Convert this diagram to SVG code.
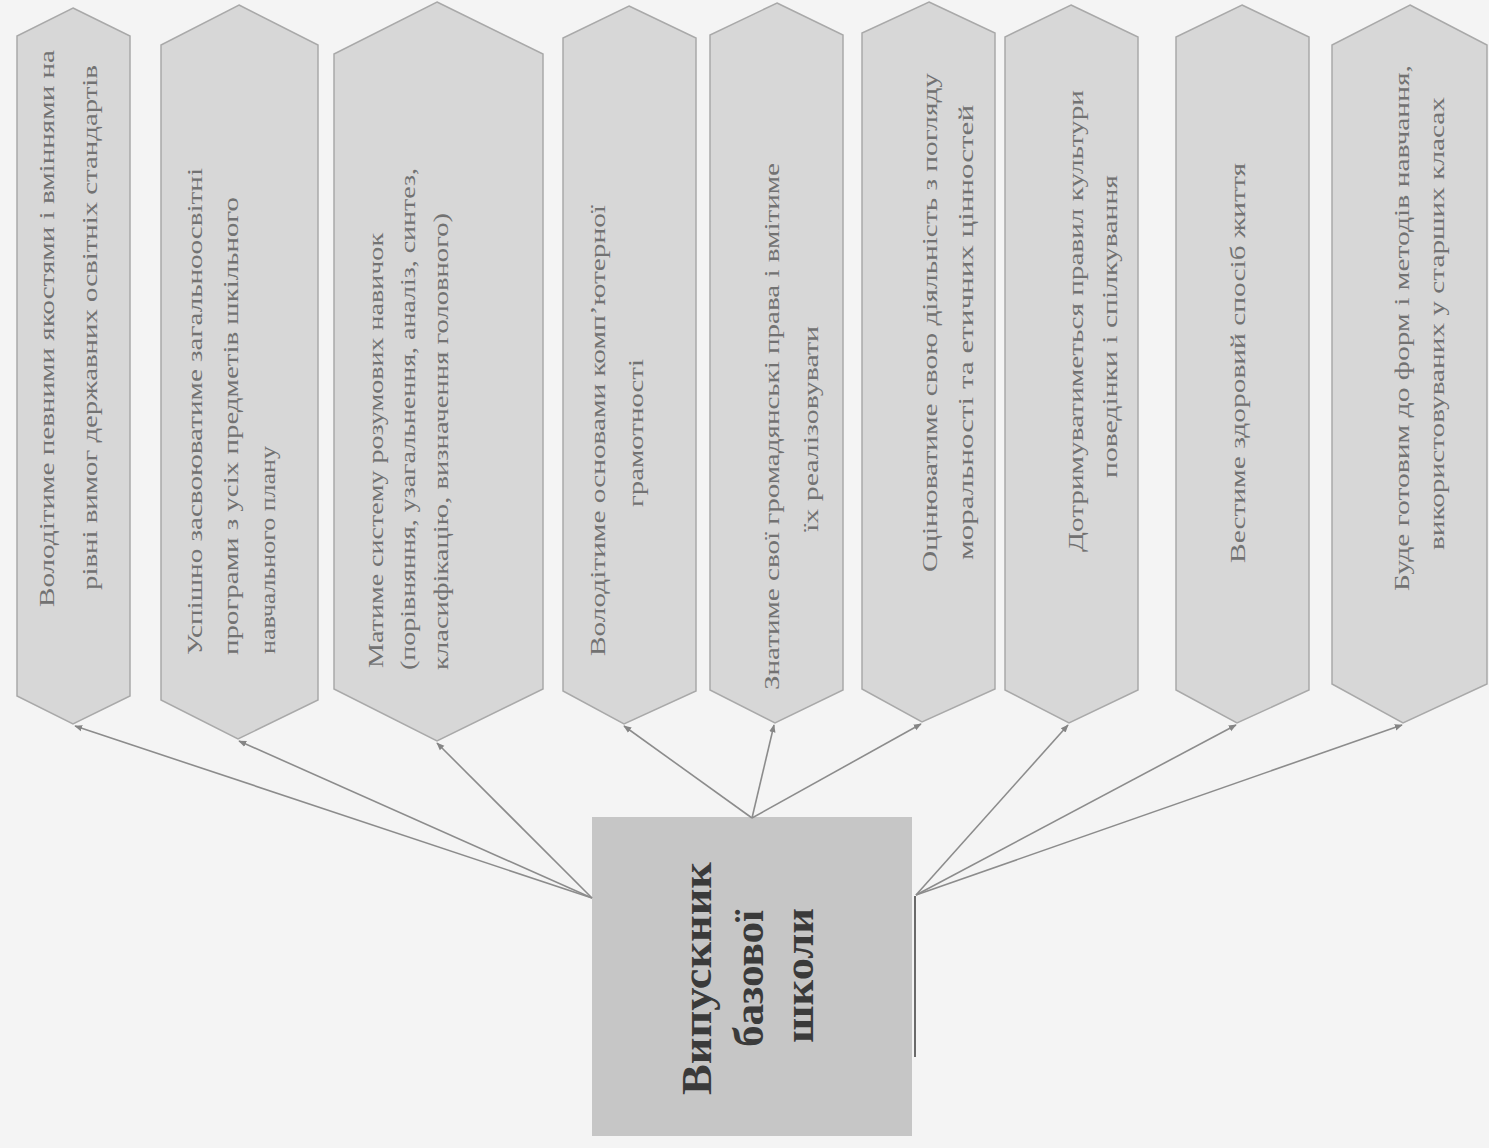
<svg xmlns="http://www.w3.org/2000/svg" width="1489" height="1148" viewBox="0 0 1489 1148">
<style>
.hex{fill:#d7d7d7;stroke:#a9a9a9;stroke-width:1.5}
.t{font-family:"Liberation Serif","Times New Roman",serif;font-size:20px;fill:#727272;dominant-baseline:middle}
.box{fill:#c6c6c6}
.bt{font-family:"Liberation Serif","Times New Roman",serif;font-size:42px;font-weight:bold;fill:#3a3a3a;dominant-baseline:middle}
.c{stroke:#8c8c8c;stroke-width:1.6;fill:none;marker-end:url(#ah)}
</style>
<defs>
<marker id="ah" viewBox="0 0 10 10" refX="9" refY="5" markerWidth="8" markerHeight="8" orient="auto" markerUnits="userSpaceOnUse">
<path d="M0,1 L10,5 L0,9 z" fill="#858585"/>
</marker>
</defs>
<rect width="1489" height="1148" fill="#f4f4f4"/>

<g id="node1">
<polygon class="hex" points="73,8 130,36 130,696 73,724 17,696 17,36"/>
<text class="t" transform="translate(49,607) rotate(-90)" textLength="557" lengthAdjust="spacingAndGlyphs">Володітиме певними якостями і вміннями на</text>
<text class="t" transform="translate(92,590) rotate(-90)" textLength="525" lengthAdjust="spacingAndGlyphs">рівні вимог державних освітніх стандартів</text>
</g>

<g id="node2">
<polygon class="hex" points="239,5 318,45 318,700 238,739 161,700 161,45"/>
<text class="t" transform="translate(197,655) rotate(-90)" textLength="487" lengthAdjust="spacingAndGlyphs">Успішно засвоюватиме загальноосвітні</text>
<text class="t" transform="translate(233,655) rotate(-90)" textLength="458" lengthAdjust="spacingAndGlyphs">програми з усіх предметів шкільного</text>
<text class="t" transform="translate(270,654) rotate(-90)" textLength="208" lengthAdjust="spacingAndGlyphs">навчального плану</text>
</g>

<g id="node3">
<polygon class="hex" points="437,2 543,54 543,689 437,741 334,689 334,54"/>
<text class="t" transform="translate(378,668) rotate(-90)" textLength="435" lengthAdjust="spacingAndGlyphs">Матиме систему розумових навичок</text>
<text class="t" transform="translate(410,670) rotate(-90)" textLength="502" lengthAdjust="spacingAndGlyphs">(порівняння, узагальнення, аналіз, синтез,</text>
<text class="t" transform="translate(443,670) rotate(-90)" textLength="457" lengthAdjust="spacingAndGlyphs">класифікацію, визначення головного)</text>
</g>

<g id="node4">
<polygon class="hex" points="629,6 696,38 696,691 624,724 563,691 563,38"/>
<text class="t" transform="translate(600,656) rotate(-90)" textLength="451" lengthAdjust="spacingAndGlyphs">Володітиме основами комп’ютерної</text>
<text class="t" transform="translate(638,507) rotate(-90)" textLength="148" lengthAdjust="spacingAndGlyphs">грамотності</text>
</g>

<g id="node5">
<polygon class="hex" points="777,3 843,35 843,690 775,723 710,690 710,35"/>
<text class="t" transform="translate(774,690) rotate(-90)" textLength="527" lengthAdjust="spacingAndGlyphs">Знатиме свої громадянські права і вмітиме</text>
<text class="t" transform="translate(813,532) rotate(-90)" textLength="206" lengthAdjust="spacingAndGlyphs">їх реалізовувати</text>
</g>

<g id="node6">
<polygon class="hex" points="929,2 995,33 995,689 922,722 862,689 862,33"/>
<text class="t" transform="translate(932,572) rotate(-90)" textLength="499" lengthAdjust="spacingAndGlyphs">Оцінюватиме свою діяльність з погляду</text>
<text class="t" transform="translate(968,560) rotate(-90)" textLength="455" lengthAdjust="spacingAndGlyphs">моральності та етичних цінностей</text>
</g>

<g id="node7">
<polygon class="hex" points="1071,5 1138,37 1138,690 1069,723 1005,690 1005,37"/>
<text class="t" transform="translate(1078,552) rotate(-90)" textLength="462" lengthAdjust="spacingAndGlyphs">Дотримуватиметься правил культури</text>
<text class="t" transform="translate(1112,478) rotate(-90)" textLength="303" lengthAdjust="spacingAndGlyphs">поведінки і спілкування</text>
</g>

<g id="node8">
<polygon class="hex" points="1242,5 1309,37 1309,690 1237,723 1176,690 1176,37"/>
<text class="t" transform="translate(1240,563) rotate(-90)" textLength="400" lengthAdjust="spacingAndGlyphs">Вестиме здоровий спосіб життя</text>
</g>

<g id="node9">
<polygon class="hex" points="1410,5 1487,45 1487,684 1403,723 1332,684 1332,45"/>
<text class="t" transform="translate(1404,591) rotate(-90)" textLength="526" lengthAdjust="spacingAndGlyphs">Буде готовим до форм і методів навчання,</text>
<text class="t" transform="translate(1439,550) rotate(-90)" textLength="453" lengthAdjust="spacingAndGlyphs">використовуваних у старших класах</text>
</g>

<g id="center">
<rect class="box" x="592" y="817" width="320" height="319"/>
<line x1="915" y1="896" x2="915" y2="1057" stroke="#6a6a6a" stroke-width="2"/>
<text class="bt" transform="translate(701,1095) rotate(-90)" textLength="233" lengthAdjust="spacingAndGlyphs">Випускник</text>
<text class="bt" transform="translate(753,1047) rotate(-90)" textLength="137" lengthAdjust="spacingAndGlyphs">базової</text>
<text class="bt" transform="translate(803,1043) rotate(-90)" textLength="135" lengthAdjust="spacingAndGlyphs">школи</text>
</g>

<g id="connectors">
<line class="c" x1="592" y1="898" x2="75" y2="726"/>
<line class="c" x1="592" y1="898" x2="239" y2="741"/>
<line class="c" x1="592" y1="898" x2="437" y2="743"/>
<line class="c" x1="752" y1="818" x2="624" y2="726"/>
<line class="c" x1="752" y1="818" x2="774" y2="725"/>
<line class="c" x1="752" y1="818" x2="921" y2="724"/>
<line class="c" x1="916" y1="895" x2="1068" y2="725"/>
<line class="c" x1="916" y1="895" x2="1236" y2="725"/>
<line class="c" x1="916" y1="895" x2="1402" y2="725"/>
</g>
</svg>
